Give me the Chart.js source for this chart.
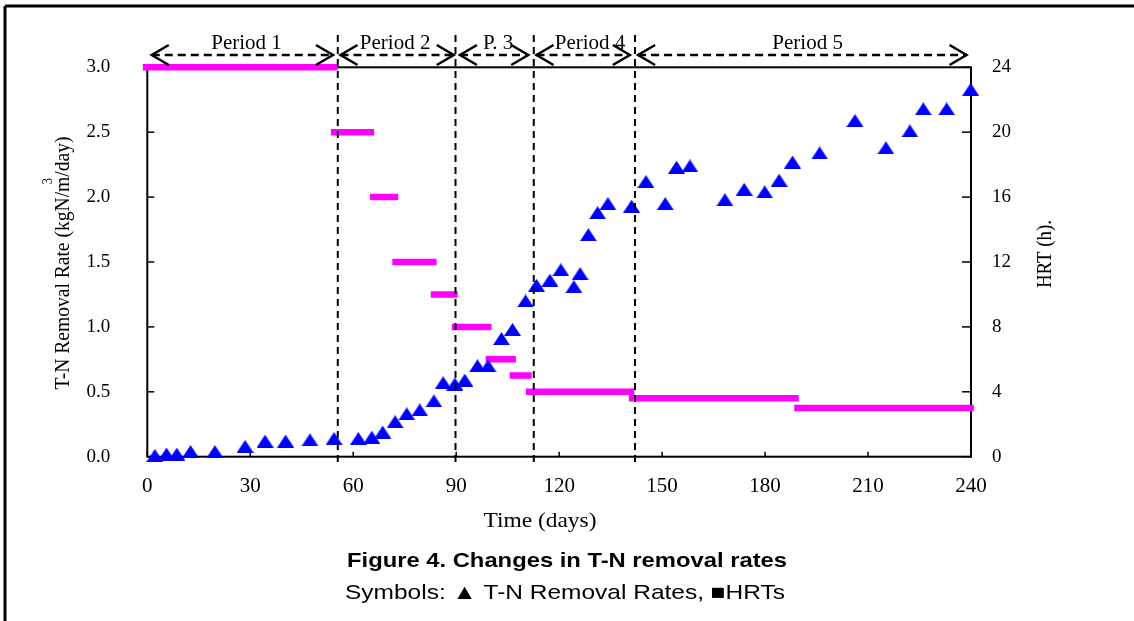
<!DOCTYPE html>
<html>
<head>
<meta charset="utf-8">
<script src="https://cdn.jsdelivr.net/npm/chart.js@4.4.1/dist/chart.umd.min.js"></script>
<style>
  body { margin: 0; background: #fff; }
  canvas { display: block; }
</style>
</head>
<body>
<canvas id="chart" width="1134" height="621"></canvas>
<script>
// T-N removal rate (kgN/m3/day), blue triangles on the left axis
const rateDays = [2.2, 5.6, 8.6, 12.6, 19.7, 28.5, 34.3, 40.3, 47.4, 54.4,
  61.5, 65.4, 68.6, 72.2, 75.6, 79.4, 83.5, 86.2, 89.6, 92.5,
  96.2, 99.3, 103.2, 106.4, 110.2, 113.4, 117.3, 120.5, 124.3, 126.1,
  128.5, 131.2, 134.2, 141.1, 145.3, 150.9, 154.2, 158.1, 168.3, 173.9,
  179.9, 184.1, 188.0, 195.9, 206.2, 215.2, 222.2, 226.1, 232.9, 239.9];
const rateValues = [0.01, 0.02, 0.02, 0.04, 0.04, 0.08, 0.12, 0.12, 0.13, 0.14,
  0.14, 0.15, 0.19, 0.27, 0.33, 0.36, 0.43, 0.57, 0.56, 0.59,
  0.70, 0.70, 0.91, 0.98, 1.20, 1.32, 1.36, 1.44, 1.31, 1.41,
  1.71, 1.88, 1.95, 1.93, 2.12, 1.95, 2.23, 2.24, 1.98, 2.06,
  2.04, 2.13, 2.27, 2.34, 2.59, 2.38, 2.51, 2.68, 2.68, 2.83];

// HRT steps (h), magenta bars on the right axis
const hrtStart = [-1.3, 53.5, 64.9, 71.4, 82.6, 88.7, 98.6, 105.6, 110.3, 140.3, 188.5];
const hrtEnd   = [55.4, 66.1, 73.1, 84.3, 90.4, 100.3, 107.4, 112.0, 141.9, 189.8, 240.8];
const hrtValue = [24, 20, 16, 12, 10, 8, 6, 5, 4, 3.6, 3];

// periods
const periodLines = [55.5, 89.8, 112.6, 142.1];
const periodNames = ['Period 1', 'Period 2', 'P. 3', 'Period 4', 'Period 5'];
const periodFrom  = [1.3, 56.3, 91.1, 113.4, 143.0];
const periodTo    = [54.1, 89.3, 111.0, 140.6, 238.7];
const periodMid   = [28.9, 72.2, 102.2, 129.0, 192.4];

// build the HRT line with gaps between steps
let hrtData = [];
for (let i = 0; i < hrtValue.length; i++) {
  hrtData.push({x: hrtStart[i], y: hrtValue[i]});
  hrtData.push({x: hrtEnd[i], y: hrtValue[i]});
  hrtData.push({x: hrtEnd[i], y: null});
}

let rateData = rateDays.map((d, i) => ({x: d, y: rateValues[i]}));

// triangle marker
const tri = document.createElement('canvas');
tri.width = 17; tri.height = 13;
const tc = tri.getContext('2d');
tc.fillStyle = '#0000ff';
tc.beginPath(); tc.moveTo(8.5, 0); tc.lineTo(17, 13); tc.lineTo(0, 13); tc.closePath(); tc.fill();

const SERIF = "'Liberation Serif', 'Times New Roman', serif";
const SANS = "'Liberation Sans', Arial, sans-serif";

function line(ctx, x1, y1, x2, y2) {
  ctx.beginPath(); ctx.moveTo(x1, y1); ctx.lineTo(x2, y2); ctx.stroke();
}

// text squeezed/stretched to a target width
function fitText(ctx, str, cx, cy, width, font, rot) {
  ctx.save();
  ctx.font = font;
  const w = ctx.measureText(str).width;
  ctx.translate(cx, cy);
  if (rot) ctx.rotate(rot);
  ctx.scale(width / w, 1);
  ctx.textAlign = 'center';
  ctx.fillText(str, 0, 0);
  ctx.restore();
}

const frame = {
  id: 'frame',
  beforeDatasetsDraw(chart) {
    const {ctx, chartArea: a, scales: {x, y, y1}} = chart;
    ctx.save();
    ctx.strokeStyle = '#000';
    ctx.lineWidth = 2;
    ctx.strokeRect(a.left, a.top, a.right - a.left, a.bottom - a.top);
    ctx.lineWidth = 1.5;
    y.ticks.forEach(t => { const p = y.getPixelForValue(t.value); line(ctx, a.left, p, a.left + 7, p); });
    y1.ticks.forEach(t => { const p = y1.getPixelForValue(t.value); line(ctx, a.right - 9, p, a.right, p); });
    x.ticks.forEach(t => { const p = x.getPixelForValue(t.value); line(ctx, p, a.bottom, p, a.bottom - 5); });
    ctx.restore();
  },
  afterDatasetsDraw(chart) {
    const {ctx, chartArea: a, scales: {x}} = chart;
    ctx.save();
    ctx.strokeStyle = '#000';
    ctx.fillStyle = '#000';

    // outer border
    ctx.lineWidth = 3;
    line(ctx, 5, 6, 1140, 6);
    line(ctx, 5, 6, 5, 630);

    // period boundaries
    ctx.lineWidth = 2;
    ctx.setLineDash([7, 5]);
    periodLines.forEach(d => { const p = x.getPixelForValue(d); line(ctx, p, 35, p, a.bottom + 6); });

    // period arrows and labels
    const ay = 55;
    periodNames.forEach((name, i) => {
      const x1 = x.getPixelForValue(periodFrom[i]);
      const x2 = x.getPixelForValue(periodTo[i]);
      ctx.lineWidth = 2.5;
      ctx.setLineDash([8, 5]);
      line(ctx, x1, ay, x2, ay);
      ctx.setLineDash([]);
      ctx.beginPath();
      ctx.moveTo(x1 + 17, ay - 10); ctx.lineTo(x1, ay); ctx.lineTo(x1 + 17, ay + 10);
      ctx.moveTo(x2 - 17, ay - 10); ctx.lineTo(x2, ay); ctx.lineTo(x2 - 17, ay + 10);
      ctx.stroke();
      ctx.font = '21px ' + SERIF;
      ctx.textAlign = 'center';
      ctx.textBaseline = 'alphabetic';
      ctx.fillText(name, x.getPixelForValue(periodMid[i]), 49);
    });

    // axis titles
    ctx.textBaseline = 'alphabetic';
    fitText(ctx, 'Time (days)', 540, 527, 113, '21px ' + SERIF);

    ctx.textBaseline = 'middle';
    fitText(ctx, 'HRT (h).', 1045, 254, 68, '21px ' + SERIF, -Math.PI / 2);

    // left title with superscript 3 above the m
    ctx.save();
    ctx.font = '22px ' + SERIF;
    const partA = 'T-N Removal Rate (kgN/m';
    const partB = '/day)';
    const wA = ctx.measureText(partA).width;
    const wB = ctx.measureText(partB).width;
    const wm = ctx.measureText('m').width;
    ctx.translate(63, 263);
    ctx.rotate(-Math.PI / 2);
    ctx.scale(253 / (wA + wB), 1);
    const x0 = -(wA + wB) / 2;
    ctx.textAlign = 'left';
    ctx.textBaseline = 'middle';
    ctx.fillText(partA, x0, 0);
    ctx.fillText(partB, x0 + wA, 0);
    ctx.font = '14px ' + SERIF;
    ctx.fillText('3', x0 + wA - wm / 2, -15);
    ctx.restore();

    // caption
    ctx.textBaseline = 'alphabetic';
    fitText(ctx, 'Figure 4. Changes in T-N removal rates', 567, 567, 440, 'bold 21px ' + SANS);
    fitText(ctx, 'Symbols: \u25B2 T-N Removal Rates, \u25A0HRTs', 565, 599, 440, '21px ' + SANS);
    ctx.restore();
  }
};

const ctx = document.getElementById('chart');

const myChart = new Chart(ctx, {
  type: 'scatter',
  data: {
    datasets: [
      {
        label: 'T-N Removal Rate',
        data: rateData,
        pointStyle: tri,
        pointRadius: 8,
        backgroundColor: '#0000ff',
        borderColor: '#0000ff',
        yAxisID: 'y',
        clip: false,
        order: 1
      },
      {
        label: 'HRT',
        type: 'line',
        data: hrtData,
        borderColor: '#ff00ff',
        borderWidth: 6.5,
        borderCapStyle: 'butt',
        pointRadius: 0,
        spanGaps: false,
        fill: false,
        tension: 0,
        yAxisID: 'y1',
        clip: false,
        order: 2
      }
    ]
  },
  options: {
    responsive: false,
    animation: false,
    devicePixelRatio: 1,
    layout: { padding: { top: 67.3, left: 0, right: 0, bottom: 0 } },
    plugins: { legend: { display: false }, tooltip: { enabled: false } },
    scales: {
      x: {
        type: 'linear', position: 'bottom', min: 0, max: 240,
        ticks: { stepSize: 30, color: '#000', font: { family: SERIF, size: 21 }, padding: 17, maxRotation: 0 },
        grid: { display: false, drawTicks: false },
        border: { display: false },
        afterFit: s => { s.height = 164.3; }
      },
      y: {
        position: 'left', min: 0, max: 3,
        ticks: { stepSize: 0.5, color: '#000', font: { family: SERIF, size: 19 }, padding: 37,
                 callback: v => v.toFixed(1) },
        grid: { display: false, drawTicks: false },
        border: { display: false },
        afterFit: s => { s.width = 147.3; }
      },
      y1: {
        position: 'right', min: 0, max: 24,
        ticks: { stepSize: 4, color: '#000', font: { family: SERIF, size: 19 }, padding: 21 },
        grid: { display: false, drawTicks: false },
        border: { display: false },
        afterFit: s => { s.width = 163; }
      }
    }
  },
  plugins: [frame]
});
</script>
</body>
</html>
